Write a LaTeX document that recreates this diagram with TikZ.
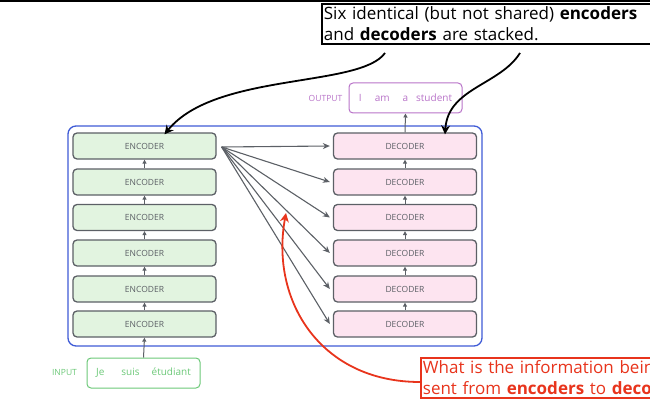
\documentclass[tikz,border=0pt]{standalone}
\usepackage{fontspec}
\setmainfont{Open Sans}
\usepackage{xcolor}
\usetikzlibrary{arrows.meta}

\definecolor{encfill}{HTML}{E2F4E0}
\definecolor{decfill}{HTML}{FDE4F0}
\definecolor{boxgray}{HTML}{5C6066}
\definecolor{stackblue}{HTML}{3F5BD6}
\definecolor{ingreen}{HTML}{6CC878}
\definecolor{outpurple}{HTML}{B873C8}
\definecolor{notered}{HTML}{E8341C}

\tikzset{
  layer/.style={draw=boxgray, rounded corners=4pt, line width=1.3pt,
    minimum width=143pt, minimum height=26pt, text=boxgray,
    font=\fontsize{8.5}{9}\selectfont},
  enc/.style={layer, fill=encfill},
  dec/.style={layer, fill=decfill},
  flow/.style={draw=boxgray, line width=1pt, -{Triangle[length=4pt,width=4pt]}},
  link/.style={draw=boxgray, line width=1.1pt, -{Stealth[length=7pt,width=6pt]}},
  pointer/.style={line width=1.8pt, -{Stealth[length=9pt,width=9pt]}}
}

\begin{document}
\begin{tikzpicture}[x=1pt,y=-1pt]
  \useasboundingbox (0,0) rectangle (650,401);
  \clip (0,0) rectangle (650,401);
  % slide edge
  \draw [line width=1.5pt] (0,1) -- (650,1);
  % stack frame
  \draw [stackblue, line width=1.3pt, rounded corners=8pt] (68,126) rectangle (482,346);
  % encoders
  \node (enc1) [enc] at (144.5,146) {ENCODER};
  \node (enc2) [enc] at (144.5,182) {ENCODER};
  \node (enc3) [enc] at (144.5,217.5) {ENCODER};
  \node (enc4) [enc] at (144.5,253) {ENCODER};
  \node (enc5) [enc] at (144.5,289) {ENCODER};
  \node (enc6) [enc] at (144.5,324) {ENCODER};
  % decoders
  \node (dec1) [dec] at (405,146) {DECODER};
  \node (dec2) [dec] at (405,182) {DECODER};
  \node (dec3) [dec] at (405,217.5) {DECODER};
  \node (dec4) [dec] at (405,253) {DECODER};
  \node (dec5) [dec] at (405,289) {DECODER};
  \node (dec6) [dec] at (405,324) {DECODER};
  % input and output
  \node (inp) [draw=ingreen, rounded corners=4pt, line width=1pt, minimum width=113pt, minimum height=30pt,
    text=ingreen, font=\fontsize{10}{10}\selectfont] at (143.5,373) {Je\hspace{17pt}suis\hspace{12pt}étudiant};
  \node (inlabel) [text=ingreen, font=\fontsize{8.5}{9}\selectfont] at (64.5,373) {INPUT};
  \node (out) [draw=outpurple, rounded corners=4pt, line width=1pt, minimum width=113pt, minimum height=30pt,
    text=outpurple, font=\fontsize{10}{10}\selectfont] at (405.5,98) {I\hspace{13pt}am\hspace{13pt}a\hspace{8pt}student};
  \node (outlabel) [text=outpurple, font=\fontsize{8.5}{9}\selectfont] at (325.5,98) {OUTPUT};
  % vertical flow
  \draw [flow] (inp.north) -- (enc6.south);
  \draw [flow] (enc6.north) -- (enc5.south);
  \draw [flow] (enc5.north) -- (enc4.south);
  \draw [flow] (enc4.north) -- (enc3.south);
  \draw [flow] (enc3.north) -- (enc2.south);
  \draw [flow] (enc2.north) -- (enc1.south);
  \draw [flow] (dec6.north) -- (dec5.south);
  \draw [flow] (dec5.north) -- (dec4.south);
  \draw [flow] (dec4.north) -- (dec3.south);
  \draw [flow] (dec3.north) -- (dec2.south);
  \draw [flow] (dec2.north) -- (dec1.south);
  \draw [flow] (dec1.north) -- (out.south);
  % encoder output to every decoder
  \coordinate (src) at ([xshift=5pt,yshift=-1pt]enc1.east);
  \draw [link] (src) -- ([xshift=-3pt]dec1.west);
  \draw [link] (src) -- ([xshift=-3pt]dec2.west);
  \draw [link] (src) -- ([xshift=-3pt]dec3.west);
  \draw [link] (src) -- ([xshift=-3pt]dec4.west);
  \draw [link] (src) -- ([xshift=-3pt]dec5.west);
  \draw [link] (src) -- ([xshift=-3pt]dec6.west);
  % callouts
  \node (note) [draw, line width=1.8pt, fill=white, anchor=north west, align=left, text width=340pt,
    inner xsep=2pt, inner ysep=3pt, font=\fontsize{17}{21}\selectfont] at (321,3)
    {Six identical (but not shared) \textbf{encoders}\\and \textbf{decoders} are stacked.};
  \coordinate (noteA) at (385,53);
  \coordinate (noteB) at (520,53);
  \draw [pointer] (noteA) .. controls (360,88) and (215,72) .. ([xshift=20pt,yshift=-2pt]enc1.north);
  \draw [pointer] (noteB) .. controls (500,85) and (448,88) .. ([xshift=40pt,yshift=-2pt]dec1.north);
  \node (ask) [draw=notered, line width=1.8pt, fill=white, anchor=north west, align=left, text width=340pt,
    inner xsep=2pt, inner ysep=3pt, text=notered, font=\fontsize{17}{21}\selectfont] at (420,357)
    {What is the information being\\sent from \textbf{encoders} to \textbf{decoders}?};
  \coordinate (askA) at (420,382);
  \coordinate (askB) at (286,213);
  \draw [pointer, notered] (askA) .. controls (320,382) and (270,300) .. (askB);
\end{tikzpicture}
\end{document}
